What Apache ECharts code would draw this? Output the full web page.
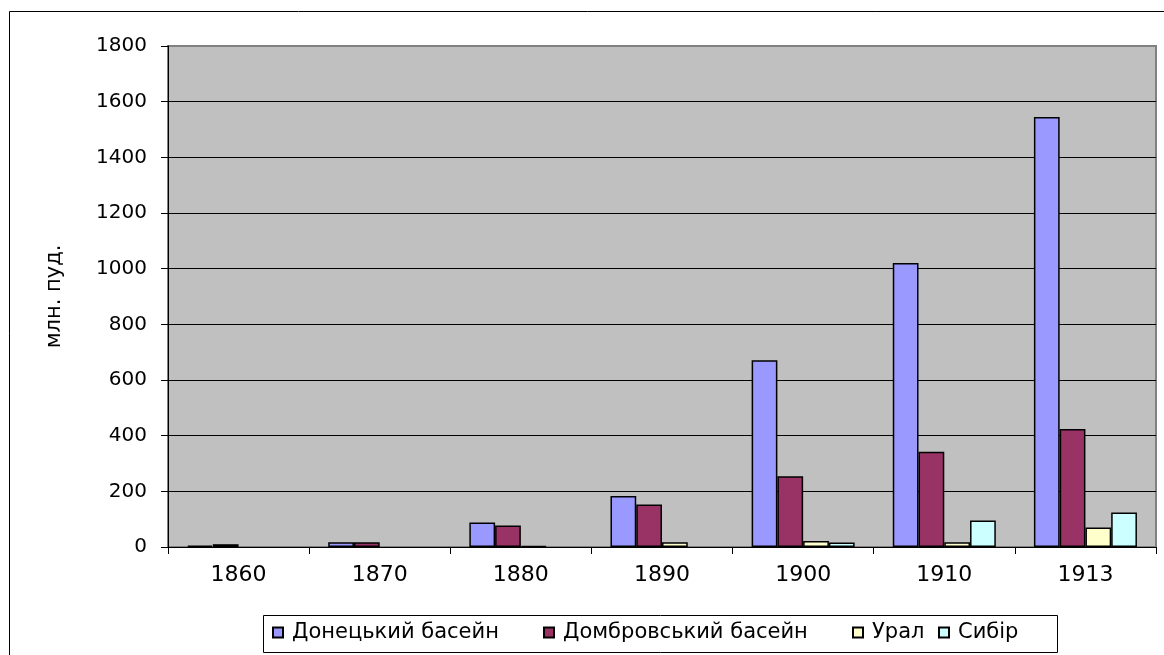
<!DOCTYPE html>
<html>
<head>
<meta charset="utf-8">
<script src="https://cdn.jsdelivr.net/npm/echarts@6/dist/echarts.min.js"></script>
<style>
html, body { margin: 0; padding: 0; background: #fff; }
#main { width: 1164px; height: 655px; }
</style>
</head>
<body>
<div id="main"></div>
<script>
// роки видобутку вугілля, млн. пуд.
var years = ['1860', '1870', '1880', '1890', '1900', '1910', '1913'];
var donetsk = [5, 17, 88, 183, 671, 1020, 1545];
var dombrova = [10, 17, 77, 153, 254, 342, 424];
var ural = [null, null, 3, 17, 22, 17, 70];
var sybir = [null, null, null, null, 16, 95, 124];
var yTicks = { min: 0, max: 1800, step: 200 };

var names = ['Донецький басейн', 'Домбровський басейн', 'Урал', 'Сибір'];
var colors = ['#9999ff', '#993366', '#ffffcc', '#ccffff'];
var font = 'DejaVu Sans';

function barSeries(i, data) {
	return {
		name: names[i],
		type: 'bar',
		data: data,
		barGap: '0%',
		barCategoryGap: '27%',
		itemStyle: {
			color: colors[i],
			borderColor: '#000',
			borderWidth: 1.5
		}
	};
}

// окрема легенда для кожного ряду, щоб розставити як в оригіналі
var legendX = [272, 543, 852, 938];
var legends = [];
for (var i = 0; i < names.length; i++) {
	legends.push({
		left: legendX[i],
		top: 622,
		padding: 0,
		itemWidth: 10,
		itemHeight: 10,
		textStyle: { fontFamily: font, fontSize: 21, color: '#000', padding: [0, 0, 0, 4] },
		data: [{ name: names[i], icon: 'rect' }]
	});
}

// сітка: верхня лінія сіра, як рамка
var splitColors = [];
for (var v = yTicks.min; v <= yTicks.max; v += yTicks.step) {
	splitColors.push(v == yTicks.max ? '#808080' : '#000');
}

var myChart = echarts.init(document.getElementById('main'));
myChart.setOption({
	animation: false,
	backgroundColor: '#fff',
	textStyle: { fontFamily: font },
	graphic: [{
		type: 'rect',
		shape: { x: 9.5, y: 11.5, width: 1200, height: 700 },
		style: { fill: 'none', stroke: '#000', lineWidth: 1 },
		z: 0
	}, {
		type: 'rect',
		shape: { x: 263.5, y: 615.5, width: 794, height: 37 },
		style: { fill: 'none', stroke: '#000', lineWidth: 1 },
		z: 0
	}],
	legend: legends,
	grid: {
		left: 168,
		top: 46,
		right: 8,
		bottom: 108,
		show: true,
		backgroundColor: '#c0c0c0',
		borderColor: '#808080',
		borderWidth: 2
	},
	xAxis: {
		type: 'category',
		data: years,
		axisLine: { lineStyle: { color: '#000', width: 1 } },
		axisTick: { show: true, length: 7, lineStyle: { color: '#000' } },
		axisLabel: { fontFamily: font, fontSize: 22, color: '#000', margin: 17 }
	},
	yAxis: {
		type: 'value',
		min: yTicks.min,
		max: yTicks.max,
		interval: yTicks.step,
		name: 'млн. пуд.',
		nameLocation: 'middle',
		nameGap: 103,
		nameTextStyle: { fontFamily: font, fontSize: 21, color: '#000' },
		axisLine: { show: true, lineStyle: { color: '#000', width: 1 } },
		axisTick: { show: true, length: 7, lineStyle: { color: '#000' } },
		axisLabel: {
			fontFamily: font,
			fontSize: 20,
			color: '#000',
			margin: 21,
			formatter: function(v) {
				return String(v);
			}
		},
		splitLine: { show: true, lineStyle: { color: splitColors, width: 1 } }
	},
	series: [
		barSeries(0, donetsk),
		barSeries(1, dombrova),
		barSeries(2, ural),
		barSeries(3, sybir)
	]
});
</script>
</body>
</html>
